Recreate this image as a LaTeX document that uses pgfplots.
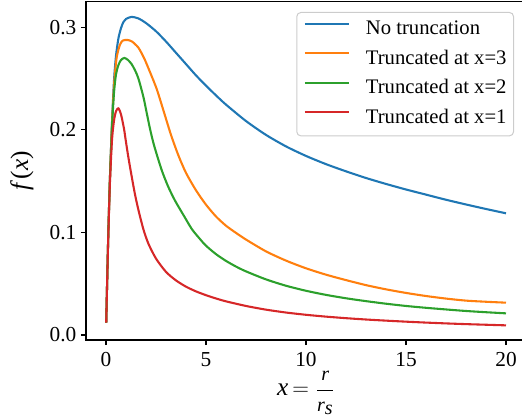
\documentclass[border=0pt]{standalone}
\usepackage{fontspec}
\setmainfont{Liberation Serif}
\usepackage{pgfplots}
\pgfplotsset{compat=1.18}
\definecolor{tabblue}{HTML}{1F77B4}
\definecolor{taborange}{HTML}{FF7F0E}
\definecolor{tabgreen}{HTML}{2CA02C}
\definecolor{tabred}{HTML}{D62728}
\begin{document}
\begin{tikzpicture}
\begin{axis}[
  at={(0,0)}, anchor=south west,
  scale only axis, width=330pt, height=253.875pt,
  xmin=-1, xmax=21, ymin=-0.00487, ymax=0.325,
  axis line style={line width=0.8pt},
  tick align=outside, major tick length=3.75pt,
  every tick/.style={black, line width=0.8pt},
  xtick pos=left, ytick pos=left,
  xtick={0,5,10,15,20}, ytick={0,0.1,0.2,0.3},
  /pgf/number format/assume math mode=true,
  yticklabel style={/pgf/number format/.cd, fixed, fixed zerofill, precision=1},
  tick label style={font=\fontsize{16}{19}\selectfont},
  xticklabel style={yshift=-2pt},
  xlabel={\textit{x}\,$=\displaystyle{\hbox{\fontsize{15}{15}\selectfont\textit{r}}\over\hbox{\fontsize{15}{15}\selectfont\textit{r}$_{\textit{s}}$}}$},
  ylabel={\textit{f}\kern0.8pt(\textit{x})},
  every axis x label/.style={at={(axis description cs:0.5,-0.0900)}, anchor=north, inner sep=0pt, font=\fontsize{19}{22}\selectfont},
  every axis y label/.style={at={(axis description cs:-0.1455,0.5)}, rotate=90, anchor=center, font=\fontsize{19}{22}\selectfont},
  legend cell align=left,
  legend style={at={(0.97273,0.96898)}, anchor=north east, draw=black!20, line width=0.75pt,
    rounded corners=3pt, fill=white, inner xsep=5.25pt, inner ysep=6.5pt, row sep=8.9pt,
    font=\fontsize{15.5}{18}\selectfont,
    nodes={inner sep=0pt, text height=10.2pt, text depth=3pt}},
  legend image code/.code={\draw[#1, line width=1.56pt, rounded corners=0pt, sharp plot] (0pt,4.5pt) -- (33pt,4.5pt); \path (0pt,0pt) (45pt,0pt);},
  every axis plot/.append style={line width=1.56pt, line join=round, smooth, tension=0.45},
]
\addplot[tabblue] coordinates {
(0.01,0.012)(0.04,0.037)(0.08,0.071)(0.12,0.102)(0.16,0.130)(0.2,0.155)(0.3,0.207)(0.4,0.248)(0.5,0.272)(0.62,0.289)(0.75,0.299)(0.87,0.305)(1.0,0.308)(1.28,0.310)(1.62,0.3085)(2.0,0.304)(2.5,0.296)(3.0,0.286)(3.5,0.275)(4.0,0.264)(4.5,0.253)(5.0,0.243)(5.5,0.2335)(6.0,0.2245)(7.0,0.2085)(8.0,0.195)(9.0,0.1838)(10.0,0.1745)(11.0,0.1665)(12.0,0.1595)(13.0,0.1530)(14.0,0.1472)(15.0,0.1418)(16.0,0.1368)(17.0,0.1318)(18.0,0.1272)(19.0,0.1228)(20,0.1186)
};
\addlegendentry{No truncation}
\addplot[taborange] coordinates {
(0.01,0.012)(0.04,0.037)(0.08,0.071)(0.12,0.102)(0.16,0.130)(0.2,0.155)(0.3,0.205)(0.4,0.243)(0.53,0.270)(0.7,0.283)(0.85,0.287)(1.07,0.2875)(1.3,0.286)(1.62,0.280)(1.9,0.270)(2.12,0.260)(2.53,0.240)(2.9,0.217)(3.25,0.195)(3.62,0.175)(4.0,0.158)(4.5,0.141)(5.0,0.127)(5.5,0.1155)(6.0,0.1065)(6.5,0.0995)(7.0,0.0930)(8.0,0.0815)(9.0,0.0725)(10.0,0.0650)(11.0,0.0588)(12.0,0.0535)(13.0,0.0486)(14.0,0.0445)(15.0,0.0410)(16.0,0.0380)(17.0,0.0355)(18.0,0.0335)(19.0,0.0324)(20,0.0315)
};
\addlegendentry{Truncated at x=3}
\addplot[tabgreen] coordinates {
(0.01,0.012)(0.04,0.037)(0.08,0.071)(0.12,0.102)(0.16,0.129)(0.2,0.154)(0.3,0.203)(0.4,0.236)(0.5,0.254)(0.62,0.263)(0.75,0.268)(0.92,0.270)(1.1,0.268)(1.28,0.264)(1.45,0.258)(1.62,0.250)(1.87,0.232)(2.03,0.217)(2.2,0.201)(2.4,0.185)(2.78,0.161)(3.1,0.145)(3.45,0.131)(3.9,0.116)(4.3,0.103)(4.7,0.0935)(5.0,0.0870)(5.5,0.0788)(6.0,0.0722)(6.5,0.0667)(7.0,0.0620)(8.0,0.0542)(9.0,0.0480)(10.0,0.0431)(11.0,0.0391)(12.0,0.0358)(13.0,0.0330)(14.0,0.0305)(15.0,0.0283)(16.0,0.0265)(17.0,0.0249)(18.0,0.0234)(19.0,0.0222)(20,0.0211)
};
\addlegendentry{Truncated at x=2}
\addplot[tabred] coordinates {
(0.01,0.012)(0.04,0.037)(0.08,0.070)(0.12,0.100)(0.16,0.126)(0.2,0.150)(0.3,0.190)(0.4,0.209)(0.5,0.218)(0.62,0.221)(0.75,0.215)(0.9,0.201)(1.0,0.188)(1.12,0.173)(1.28,0.155)(1.45,0.137)(1.62,0.122)(1.87,0.103)(2.12,0.089)(2.5,0.0745)(3.0,0.0615)(3.5,0.0532)(4.0,0.0471)(4.5,0.0425)(5.0,0.0388)(5.5,0.0356)(6.0,0.0328)(7.0,0.0283)(8.0,0.0247)(9.0,0.0219)(10.0,0.0197)(11.0,0.0179)(12.0,0.0164)(13.0,0.0151)(14.0,0.0140)(15.0,0.0130)(16.0,0.0121)(17.0,0.0113)(18.0,0.0106)(19.0,0.0100)(20,0.0094)
};
\addlegendentry{Truncated at x=1}
\end{axis}
\pgfresetboundingbox
\path ([shift={(-64.5pt,-58.5pt)}]current axis.south west) rectangle ([shift={(327pt,255pt)}]current axis.south west);
\end{tikzpicture}
\end{document}
